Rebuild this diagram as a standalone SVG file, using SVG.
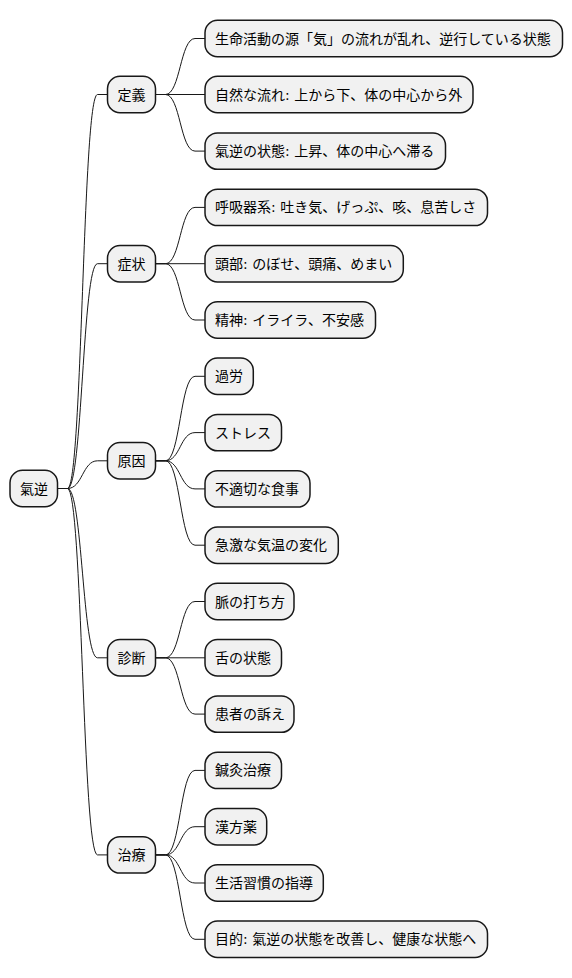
<svg xmlns="http://www.w3.org/2000/svg" width="572" height="978" viewBox="0 0 572 978">
<style>
.box{fill:#F1F1F1;stroke:#181818;stroke-width:1.5}
.t{font-family:"DejaVu Sans","Noto Sans CJK JP",sans-serif;font-size:14px;fill:#000}
.c{fill:none;stroke:#181818;stroke-width:1}
</style>
<rect width="572" height="978" fill="#FFFFFF"/>
<g id="connectors">
<path class="c" d="M57.5 488.5 H67.5 C82.5 488.5 82.5 94.5 97.5 94.5 H107.5"/>
<path class="c" d="M57.5 488.5 H67.5 C82.5 488.5 82.5 263.7 97.5 263.7 H107.5"/>
<path class="c" d="M57.5 488.5 H67.5 C82.5 488.5 82.5 460.8 97.5 460.8 H107.5"/>
<path class="c" d="M57.5 488.5 H67.5 C82.5 488.5 82.5 657.8 97.5 657.8 H107.5"/>
<path class="c" d="M57.5 488.5 H67.5 C82.5 488.5 82.5 854.9 97.5 854.9 H107.5"/>
<path class="c" d="M155.5 94.5 H165.5 C180.25 94.5 180.25 38.5 195 38.5 H205"/>
<path class="c" d="M155.5 94.5 H205"/>
<path class="c" d="M155.5 94.5 H165.5 C180.25 94.5 180.25 151.1 195 151.1 H205"/>
<path class="c" d="M155.5 263.7 H165.5 C180.25 263.7 180.25 207.4 195 207.4 H205"/>
<path class="c" d="M155.5 263.7 H205"/>
<path class="c" d="M155.5 263.7 H165.5 C180.25 263.7 180.25 320 195 320 H205"/>
<path class="c" d="M155.5 460.8 H165.5 C180.25 460.8 180.25 376.3 195 376.3 H205"/>
<path class="c" d="M155.5 460.8 H165.5 C180.25 460.8 180.25 432.6 195 432.6 H205"/>
<path class="c" d="M155.5 460.8 H165.5 C180.25 460.8 180.25 488.9 195 488.9 H205"/>
<path class="c" d="M155.5 460.8 H165.5 C180.25 460.8 180.25 545.2 195 545.2 H205"/>
<path class="c" d="M155.5 657.8 H165.5 C180.25 657.8 180.25 601.5 195 601.5 H205"/>
<path class="c" d="M155.5 657.8 H205"/>
<path class="c" d="M155.5 657.8 H165.5 C180.25 657.8 180.25 714.1 195 714.1 H205"/>
<path class="c" d="M155.5 854.9 H165.5 C180.25 854.9 180.25 770.4 195 770.4 H205"/>
<path class="c" d="M155.5 854.9 H165.5 C180.25 854.9 180.25 826.7 195 826.7 H205"/>
<path class="c" d="M155.5 854.9 H165.5 C180.25 854.9 180.25 883 195 883 H205"/>
<path class="c" d="M155.5 854.9 H165.5 C180.25 854.9 180.25 939.3 195 939.3 H205"/>
</g>
<g id="root"><rect class="box" x="10" y="470.3" width="47.5" height="36.4" rx="12.5"/><text class="t" x="20" y="493.5">氣逆</text></g>
<g id="teigi"><rect class="box" x="107.5" y="76.3" width="48" height="36.4" rx="12.5"/><text class="t" x="117.5" y="99.5">定義</text></g>
<g id="shojo"><rect class="box" x="107.5" y="245.5" width="48" height="36.4" rx="12.5"/><text class="t" x="117.5" y="268.7">症状</text></g>
<g id="genin"><rect class="box" x="107.5" y="442.6" width="48" height="36.4" rx="12.5"/><text class="t" x="117.5" y="465.8">原因</text></g>
<g id="shindan"><rect class="box" x="107.5" y="639.6" width="48" height="36.4" rx="12.5"/><text class="t" x="117.5" y="662.8">診断</text></g>
<g id="chiryo"><rect class="box" x="107.5" y="836.7" width="48" height="36.4" rx="12.5"/><text class="t" x="117.5" y="859.9">治療</text></g>
<g id="d1"><rect class="box" x="205" y="20.3" width="357.5" height="36.4" rx="12.5"/><text class="t" x="215" y="43.5">生命活動の源「気」の流れが乱れ、逆行している状態</text></g>
<g id="d2"><rect class="box" x="205" y="76.3" width="268" height="36.4" rx="12.5"/><text class="t" x="215" y="99.5">自然な流れ: 上から下、体の中心から外</text></g>
<g id="d3"><rect class="box" x="205" y="132.9" width="240.5" height="36.4" rx="12.5"/><text class="t" x="215" y="156.1">氣逆の状態: 上昇、体の中心へ滞る</text></g>
<g id="s1"><rect class="box" x="205" y="189.2" width="282.5" height="36.4" rx="12.5"/><text class="t" x="215" y="212.4">呼吸器系: 吐き気、げっぷ、咳、息苦しさ</text></g>
<g id="s2"><rect class="box" x="205" y="245.5" width="198.3" height="36.4" rx="12.5"/><text class="t" x="215" y="268.7">頭部: のぼせ、頭痛、めまい</text></g>
<g id="s3"><rect class="box" x="205" y="301.8" width="170.5" height="36.4" rx="12.5"/><text class="t" x="215" y="325">精神: イライラ、不安感</text></g>
<g id="g1"><rect class="box" x="205" y="358.1" width="48.3" height="36.4" rx="12.5"/><text class="t" x="215" y="381.3">過労</text></g>
<g id="g2"><rect class="box" x="205" y="414.4" width="76.5" height="36.4" rx="12.5"/><text class="t" x="215" y="437.6">ストレス</text></g>
<g id="g3"><rect class="box" x="205" y="470.7" width="105" height="36.4" rx="12.5"/><text class="t" x="215" y="493.9">不適切な食事</text></g>
<g id="g4"><rect class="box" x="205" y="527" width="133.3" height="36.4" rx="12.5"/><text class="t" x="215" y="550.2">急激な気温の変化</text></g>
<g id="k1"><rect class="box" x="205" y="583.3" width="89" height="36.4" rx="12.5"/><text class="t" x="215" y="606.5">脈の打ち方</text></g>
<g id="k2"><rect class="box" x="205" y="639.6" width="76.5" height="36.4" rx="12.5"/><text class="t" x="215" y="662.8">舌の状態</text></g>
<g id="k3"><rect class="box" x="205" y="695.9" width="89" height="36.4" rx="12.5"/><text class="t" x="215" y="719.1">患者の訴え</text></g>
<g id="c1"><rect class="box" x="205" y="752.2" width="76.5" height="36.4" rx="12.5"/><text class="t" x="215" y="775.4">鍼灸治療</text></g>
<g id="c2"><rect class="box" x="205" y="808.5" width="61.7" height="36.4" rx="12.5"/><text class="t" x="215" y="831.7">漢方薬</text></g>
<g id="c3"><rect class="box" x="205" y="864.8" width="118.3" height="36.4" rx="12.5"/><text class="t" x="215" y="888">生活習慣の指導</text></g>
<g id="c4"><rect class="box" x="205" y="921.1" width="282.5" height="36.4" rx="12.5"/><text class="t" x="215" y="944.3">目的: 氣逆の状態を改善し、健康な状態へ</text></g>
</svg>
